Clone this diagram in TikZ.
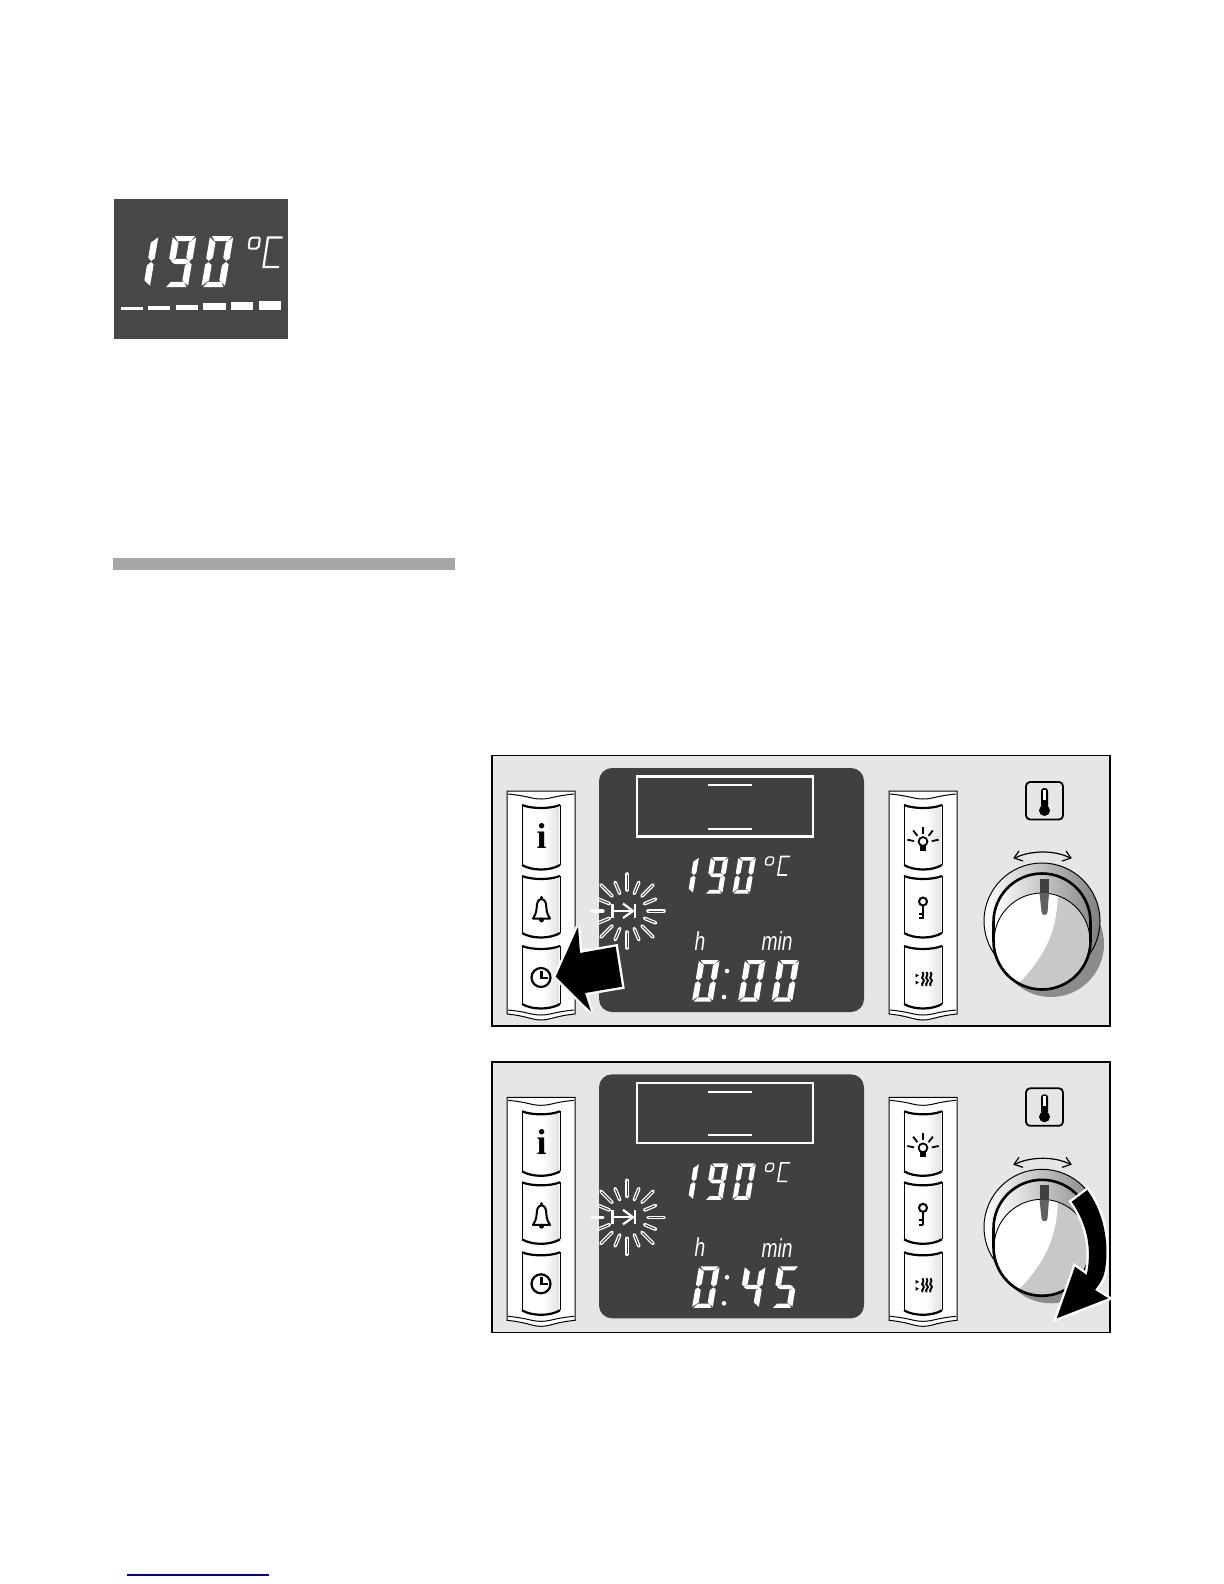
\documentclass[tikz,border=0pt]{standalone}
\usepackage{fontspec}
\setmainfont{Liberation Serif}
\newfontfamily\lcdfont{Liberation Sans}
\usetikzlibrary{calc}
\definecolor{lcd}{HTML}{404040}
\definecolor{panelbg}{HTML}{E6E6E6}
\definecolor{shadowc}{HTML}{8C8C8C}
\definecolor{facegray}{HTML}{C8C8C8}
\tikzset{
  seg/.style={fill=white,draw=none},
  thinl/.style={draw=black,line width=0.5pt},
  thickl/.style={draw=black,line width=1.1pt},
  icon/.style={draw=black,line width=1pt,fill=none},
  bigarrow/.style={fill=black,preaction={draw=white,line width=2.4pt,line join=miter,miter limit=4}},
  lcdlabel/.style={text=white,inner sep=0pt,font=\lcdfont\itshape\fontsize{13}{14}\selectfont,xscale=0.74}
}
% segments
\newcommand{\sega}{\fill[seg] (.08,0)--(.94,0)--(.8,.2)--(.24,.2)--cycle;}
\newcommand{\segb}{\fill[seg] (1,.05)--(1,.88)--(.87,.98)--(.72,.85)--(.72,.26)--cycle;}
\newcommand{\segc}{\fill[seg] (1,1.12)--(1,1.95)--(.72,1.74)--(.72,1.15)--(.87,1.02)--cycle;}
\newcommand{\segd}{\fill[seg] (.08,2)--(.94,2)--(.8,1.8)--(.24,1.8)--cycle;}
\newcommand{\sege}{\fill[seg] (0,1.12)--(.13,1.02)--(.28,1.15)--(.28,1.74)--(0,1.95)--cycle;}
\newcommand{\segf}{\fill[seg] (0,.05)--(.28,.26)--(.28,.85)--(.13,.98)--(0,.88)--cycle;}
\newcommand{\segg}{\fill[seg] (.1,1)--(.27,.9)--(.73,.9)--(.9,1)--(.73,1.1)--(.27,1.1)--cycle;}
% digit: x y w h  content
\newcommand{\dig}[5]{\begin{scope}[shift={(#1,#2)},xslant=0.17,xscale=#3,yscale=#4/2]#5\end{scope}}
\newcommand{\dzero}{\sega\segb\segc\segd\sege\segf}
\newcommand{\done}{\segb\segc}
\newcommand{\dnine}{\sega\segb\segc\segd\segf\segg}
\newcommand{\dfour}{\segb\segc\segf\segg}
\newcommand{\dfive}{\sega\segc\segd\segf\segg}
% button: x1 y1 x2 y2 
\newcommand{\btn}[4]{%
  \fill[white] (#1,#2) .. controls (#1+10,#2+4) and (#3-10,#2+4) .. (#3,#2) -- (#3,#4-5) .. controls (#3-10,#4+1) and (#1+10,#4+1) .. (#1,#4-5) -- cycle;
  \shade[left color=white,right color=black!12] (#3-16,#2+3) rectangle (#3-1,#4-3);
  \draw[thinl] (#1,#2) -- (#1,#4-5) (#3,#2) -- (#3,#4-5);
  \draw[thickl] (#1,#2) .. controls (#1+10,#2+4) and (#3-10,#2+4) .. (#3,#2);
  \draw[thickl] (#3,#4-5) .. controls (#3-10,#4+1) and (#1+10,#4+1) .. (#1,#4-5);
}
% strip: x1 x2
\newcommand{\stripbox}[2]{%
  \filldraw[fill=white,thinl] (#1,791) -- (#2,791) -- (#2,1014) .. controls (#2-20,1016) and (#2-25,1020) .. ({(#1+#2)/2},1020) .. controls (#1+25,1020) and (#1+20,1016) .. (#1,1014) -- cycle;
  \draw[thinl] (#1+1,794) .. controls (#1+22,796) and (#1+24,799) .. ({(#1+#2)/2},799) .. controls (#2-24,799) and (#2-22,796) .. (#2-1,794);
  \draw[thinl] (#1+1,1010) .. controls (#1+22,1012) and (#1+24,1015) .. ({(#1+#2)/2},1015) .. controls (#2-24,1015) and (#2-22,1012) .. (#2-1,1010);
}
\newcommand{\ovenpanel}[3]{%
 \begin{scope}[shift={(0,#2)}]
  \filldraw[fill=panelbg,draw=black,line width=0.7pt] (492,755.5) rectangle (1110,1026);
  \fill[lcd,rounded corners=6.5pt] (599,768) rectangle (864,1012);
  % top window
  \draw[white,line width=1.2pt] (637,776.5) rectangle (813,836.5);
  \draw[white,line width=1pt] (708,785.3) -- (752,785.3) (708,829) -- (752,829);
  % 190 C
  \dig{681.5}{857}{17.5}{36.5}{\done}
  \dig{711}{857}{17.5}{36.5}{\dnine}
  \dig{738.5}{857}{17.5}{36.5}{\dzero}
  \draw[white,line width=.7pt,rounded corners=1pt] (766.5,857) -- (774,857) -- (772.7,865) -- (765.2,865) -- cycle;
  \draw[white,line width=.8pt] (790,856.5) -- (781,856.5) -- (778,875) -- (787,875);
  % flash
  \foreach \a in {0,45,...,135,225,270,315}{
    \draw[white,line width=1.8pt,line cap=round] ($(627,911)+(\a:21)$) -- ($(627,911)+(\a:37)$);
    \draw[lcd,line width=.5pt,line cap=round] ($(627,911)+(\a:22)$) -- ($(627,911)+(\a:36)$);
  }
  \draw[white,line width=1.6pt,line cap=round] ($(627,911)+(180:24)$) -- ($(627,911)+(180:35)$);
  \foreach \a in {22.5,67.5,...,337.5}{
    \draw[white,line width=1.8pt,line cap=round] ($(627,911)+(\a:19)$) -- ($(627,911)+(\a:31)$);
    \draw[lcd,line width=.5pt,line cap=round] ($(627,911)+(\a:20)$) -- ($(627,911)+(\a:30)$);
  }
  \draw[white,line width=1.1pt] (612.5,903.5) -- (612.5,918) (612.5,911) -- (634,911) (635,903.5) -- (635,918);
  \draw[white,line width=1.1pt] (623,903.5) -- (633,911) -- (623,918);
  % labels
  \node[lcdlabel] (hlabel#1) at (700,941) {h};
  \node[lcdlabel] (minlabel#1) at (777,941.5) {min};
  #3
  % left strip
  \stripbox{507}{575}
  \btn{522}{805}{560}{870}
  \btn{522}{876}{560}{938}
  \btn{522}{946}{560}{1009}
  \node[inner sep=0pt,font=\bfseries\fontsize{18}{18}\selectfont] (infoi#1) at (541.5,836) {i};
  % bell
  \draw[icon,line join=round] (533,918.5) -- (550,918.5) .. controls (546,913) and (546.5,908) .. (546,904) .. controls (545,900) and (543,899) .. (541.5,899) .. controls (540,899) and (538,900) .. (537,904) .. controls (536.5,908) and (537,913) .. (533,918.5) -- cycle;
  \fill (541.5,897.5) circle (1.7);
  \fill (541.5,920) circle (2.4);
  % clock
  \draw[line width=1.1pt] (541,977.5) circle (9.5);
  \draw[line width=1.1pt] (541.5,970.5) -- (541.5,978) -- (547.5,978);
  % right strip
  \stripbox{889}{957}
  \btn{904}{805}{942}{870}
  \btn{904}{876}{942}{938}
  \btn{904}{946}{942}{1009}
  % bulb
  \draw[line width=.9pt] (923,841.5) circle (4.4);
  \fill (920,845.5) rectangle (926,850.5);
  \foreach \a in {-12,-52,-90,-128,-168}{\draw[line width=.9pt] ($(923,843)+(\a:9)$) -- ($(923,843)+(\a:16)$);}
  % key
  \draw[line width=1pt] (923,901.5) circle (4);
  \draw[line width=1.1pt] (923,905.5) -- (923,919);
  \draw[line width=1.1pt] (923,914) -- (918.5,914) (923,918.3) -- (918.5,918.3);
  % heat
  \fill (915.5,973.5) -- (919,975.5) -- (915.5,977.5) -- cycle;
  \fill (915.5,980.5) -- (919,982.5) -- (915.5,984.5) -- cycle;
  \foreach \x in {922.5,926.5,930.5}{
    \draw[line width=.95pt] (\x,972) .. controls (\x+3,975) and (\x-2.5,978) .. (\x+.5,979) .. controls (\x+3.5,981) and (\x-2,983) .. (\x,986);
  }
  % thermometer button
  \draw[line width=.9pt,rounded corners=2pt] (1026,782) rectangle (1063,819.5);
  \fill (1044.5,810.5) circle (5.5);
  \fill[rounded corners=1.5pt] (1041,808) rectangle (1048,788);
  \fill[white] (1043,800) rectangle (1046,790);
  % small arc arrow
  \draw[line width=.6pt] (1015,858) .. controls (1030,850) and (1056,850) .. (1070,858);
  \draw[line width=.6pt,line join=round] (1019,851) -- (1014,858) -- (1023,861);
  \draw[line width=.6pt,line join=round] (1066,851) -- (1071,858) -- (1062,861);
  % knob
  \fill[shadowc] (1051,944) circle (53);
  \shade[left color=white,right color=black!50,draw=black,line width=.5pt] (1042,921) circle (58);
  \shade[left color=white,right color=black!45] (993.5,922) -- (993.5,941) -- (1090.5,941) -- (1090.5,922) arc[start angle=0,end angle=-180,radius=48.5] -- cycle;
  \begin{scope}
    \clip (1042,941) circle (48);
    \fill[facegray] (990,885) rectangle (1095,995);
    \fill[white] (990,885) -- (1058,885) .. controls (1058,915) and (1055,945) .. (1021,981) -- (990,995) -- cycle;
  \end{scope}
  \draw[line width=.45pt] (1042,941) circle (48);
  \draw[line width=1.3pt] (993.5,941) -- (993.5,922) arc[start angle=180,end angle=360,radius=48.5] -- (1090.5,941) arc[start angle=0,end angle=180,radius=48.5];
  % indicator
  \fill[lcd] (1039.5,879) rectangle (1049,893);
  \fill[black!62] (1039.5,893) -- (1049,893) -- (1047.5,912) arc[start angle=0,end angle=180,radius=3] -- cycle;
 \end{scope}
}
\begin{document}
\begin{tikzpicture}[x=0.5pt,y=-0.5pt]
\useasboundingbox (0,0) rectangle (1224,1584);
% small display
\fill[black!72] (114,199) rectangle (287.5,338.5);
\dig{135}{236}{23.5}{51}{\done}
\dig{173}{236}{23.5}{51}{\dnine}
\dig{210}{236}{23.5}{51}{\dzero}
\draw[white,line width=1pt,rounded corners=1pt] (250,237.5) -- (260,237.5) -- (258.5,248.5) -- (248.5,248.5) -- cycle;
\draw[white,line width=1.1pt] (282.5,237.5) -- (268,237.5) -- (263.5,267) -- (279,267);
\fill[white] (120.7,306.7) rectangle (142.7,310);
\fill[white] (148.3,305.7) rectangle (170,310);
\fill[white] (176,304.7) rectangle (197.7,310);
\fill[white] (203.3,303) rectangle (225.7,310);
\fill[white] (231,302) rectangle (253.3,310);
\fill[white] (258.7,300.7) rectangle (280.7,310);
% grey band
\fill[black!35] (113,557.5) rectangle (455,570);
% panels
\ovenpanel{one}{0}{%
  \dig{699}{960}{20.7}{41.5}{\dzero}
  \fill[white] (727,971) circle (2.3) (724,997) circle (2.3);
  \dig{745}{960}{20.7}{41.5}{\dzero}
  \dig{778.5}{960}{20.7}{41.5}{\dzero}
}
\ovenpanel{two}{306.3}{%
  \dig{699}{960}{20.7}{41.5}{\dzero}
  \fill[white] (727,971) circle (2.3) (724,997) circle (2.3);
  \dig{745}{960}{20.7}{41.5}{\dfour}
  \dig{778.5}{960}{20.7}{41.5}{\dfive}
}
% press arrow
\path[bigarrow] (555.7,976.7) -- (578,926.7) -- (580,953) -- (615.7,946.7) -- (622,986.7) -- (585,993) -- (591,1011.7) -- cycle;
% turn arrow
\path[bigarrow] (1071.7,1201.7) -- (1087.3,1190) .. controls (1102,1210) and (1110,1240) .. (1105,1270) .. controls (1103,1280) and (1100,1283) .. (1095,1290) -- (1108.3,1298.3) -- (1056.7,1318.3) -- (1075,1266.7) -- (1086.7,1275) .. controls (1092,1250) and (1088,1225) .. (1071.7,1201.7) -- cycle;
% bottom blue rule
\draw[draw={rgb,255:red,0;green,0;blue,150},line width=.6pt] (126.7,1575) -- (269,1575);
\end{tikzpicture}
\end{document}
